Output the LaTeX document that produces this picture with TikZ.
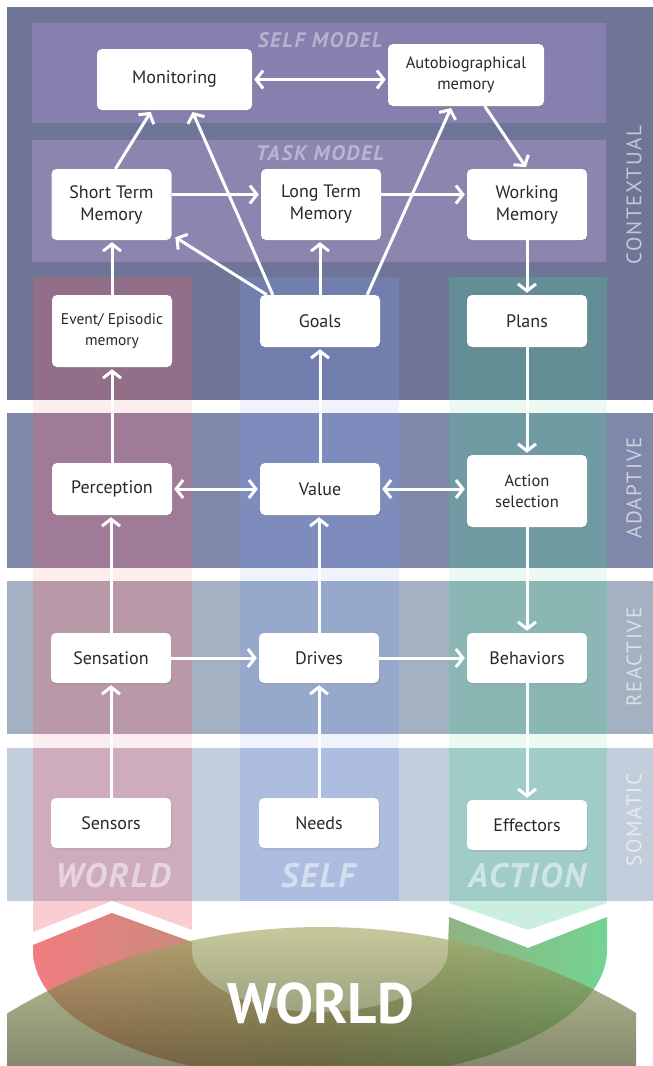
\documentclass[tikz,border=0pt]{standalone}
\usepackage{fontspec}
\setmainfont{PT Sans}
\usetikzlibrary{arrows.meta,shadows,calc}
\definecolor{ctx}{RGB}{110,117,150}
\definecolor{adp}{RGB}{128,136,170}
\definecolor{rea}{RGB}{164,177,194}
\definecolor{som}{RGB}{195,206,221}
\definecolor{selfm}{RGB}{133,128,173}
\definecolor{taskm}{RGB}{141,133,176}
\definecolor{colw}{RGB}{235,95,110}
\definecolor{cols}{RGB}{120,150,230}
\definecolor{cola}{RGB}{80,200,150}
\definecolor{ured}{RGB}{240,125,128}
\definecolor{umid}{RGB}{170,150,120}
\definecolor{ugreen}{RGB}{115,212,145}
\definecolor{etop}{RGB}{172,176,110}
\definecolor{emid}{RGB}{100,106,55}
\definecolor{ebot}{RGB}{75,82,40}
\definecolor{txt}{RGB}{40,40,40}
\begin{document}
\begin{tikzpicture}[x=1pt,y=-1pt,
  >={Straight Barb[length=7pt,width=18pt]},
  box/.style={fill=white, rounded corners=5pt, minimum width=120pt, minimum height=52pt,
    align=center, font=\fontsize{18}{22}\selectfont, text=txt, inner sep=2pt,
    drop shadow={shadow xshift=1pt, shadow yshift=-1.5pt, opacity=0.3}},
  arr/.style={draw=white, line width=3pt, ->, shorten >=2pt},
  darr/.style={draw=white, line width=3pt, <->, shorten >=2pt, shorten <=2pt},
  rowlab/.style={rotate=90, text=white, text opacity=0.6,
    font=\fontsize{21}{21}\selectfont\addfontfeature{LetterSpace=8}},
  modlab/.style={text=white, text opacity=0.4,
    font=\fontsize{21}{21}\selectfont\bfseries\itshape\addfontfeature{LetterSpace=8}},
  collab/.style={text=white, text opacity=0.5,
    font=\fontsize{34}{34}\selectfont\bfseries\itshape\addfontfeature{LetterSpace=6}}
]
\useasboundingbox (0,0) rectangle (653,1066);
\fill[white] (0,0) rectangle (653,1066);
% rows
\fill[ctx] (7,7) rectangle (653,400);
\fill[adp] (7,413) rectangle (653,568);
\fill[rea] (7,581) rectangle (653,734);
\fill[som] (7,748) rectangle (653,901);
% models
\fill[selfm] (32,23) rectangle (606,123);
\fill[taskm] (32,140) rectangle (606,262);
% columns
\fill[colw, opacity=0.3] (33,277) rectangle (192,948);
\fill[cols, opacity=0.3] (240,277) rectangle (399,901);
\fill[cola, opacity=0.3] (449,277) rectangle (607,948);
% gaps between rows
\fill[white, opacity=0.65] (7,400) rectangle (653,413);
\fill[white, opacity=0.65] (7,568) rectangle (653,581);
\fill[white, opacity=0.65] (7,734) rectangle (653,748);
% chevron bands
\fill[white] (33,932) -- (112,901) -- (192,930) -- (192,942) -- (112,913) -- (33,945) -- cycle;
\fill[white] (449,903) -- (528,930) -- (607,903) -- (607,917) -- (528,948) -- (449,917) -- cycle;
% U shape
\shade[left color=ured, right color=ugreen, middle color=umid]
  (33,945) -- (112,913) -- (192,942) -- (192,950)
  arc[start angle=180, end angle=0, x radius=128, y radius=62]
  -- (449,917) -- (528,948) -- (607,917) -- (607,950)
  arc[start angle=0, end angle=180, x radius=287, y radius=130] -- cycle;
% world ellipse
\begin{scope}
  \clip (7,900) rectangle (636,1066);
  \clip (322,1427) ellipse [x radius=560, y radius=500];
  \shade[top color=etop, middle color=emid, bottom color=ebot, opacity=0.68] (7,927) rectangle (636,1066);
\end{scope}
\node[font=\fontsize{57}{57}\selectfont\bfseries, text=white] (world) at (321,1004) {WORLD};
% labels
\node[rowlab] (lctx) at (634,195) {CONTEXTUAL};
\node[rowlab] (ladp) at (634,488) {ADAPTIVE};
\node[rowlab] (lrea) at (634,657) {REACTIVE};
\node[rowlab] (lsom) at (634,820) {SOMATIC};
\node[modlab] (lself) at (320,40) {SELF MODEL};
\node[modlab] (ltask) at (320,153) {TASK MODEL};
\node[collab] (cw) at (113,876) {WORLD};
\node[collab] (cs) at (318,876) {SELF};
\node[collab] (ca) at (527,876) {ACTION};
% boxes
\node[box, minimum width=155pt, minimum height=61pt] (mon) at (174.5,79.5) {Monitoring};
\node[box, minimum width=156pt, minimum height=62pt, font=\fontsize{16.5}{21}\selectfont] (auto) at (466,75) {Autobiographical\\memory};
\node[box, minimum height=71pt] (stm) at (111.5,204.5) {Short Term\\Memory};
\node[box, minimum height=71pt] (ltm) at (321,204.5) {Long Term\\Memory};
\node[box, minimum height=71pt] (wm) at (527,204.5) {Working\\Memory};
\node[box, minimum height=72pt, font=\fontsize{15.5}{21}\selectfont] (epi) at (112,331) {Event/ Episodic\\memory};
\node[box] (goals) at (320,321) {Goals};
\node[box] (plans) at (527,321) {Plans};
\node[box] (perc) at (112,489) {Perception};
\node[box] (val) at (320,489) {Value};
\node[box, minimum height=72pt, font=\fontsize{16.5}{21}\selectfont] (act) at (527,491) {Action\\selection};
\node[box, minimum height=50pt] (sens) at (111,658) {Sensation};
\node[box, minimum height=50pt] (drv) at (319,658) {Drives};
\node[box, minimum height=50pt] (beh) at (527,658) {Behaviors};
\node[box, minimum height=50pt] (sor) at (111,823) {Sensors};
\node[box, minimum height=50pt] (need) at (319,823) {Needs};
\node[box, minimum height=50pt] (eff) at (527,825) {Effectors};
% arrows
\draw[darr] (mon.east) -- (mon.east -| auto.west);
\draw[arr] ($(stm.north)+(4,0)$) -- ($(mon.south west)+(55,0)$);
\draw[arr] ($(goals.north west)+(13,0)$) -- ($(mon.south west)+(95,0)$);
\draw[arr] ($(goals.north east)+(-13,0)$) -- ($(auto.south west)+(64,0)$);
\draw[arr] ($(auto.south west)+(97,0)$) -- (wm.north);
\draw[arr] ($(goals.north west)+(7,0)$) -- ($(stm.south east)+(2,-4)$);
\draw[arr] ($(stm.east)+(0,-10)$) -- ($(ltm.west)+(0,-10)$);
\draw[arr] ($(ltm.east)+(0,-10)$) -- ($(wm.west)+(0,-10)$);
\draw[arr] (epi.north) -- (epi.north |- stm.south);
\draw[arr] (goals.north) -- (goals.north |- ltm.south);
\draw[arr] (wm.south) -- (plans.north);
\draw[arr] (plans.south) -- (act.north);
\draw[arr] (val.north) -- (goals.south);
\draw[arr] (perc.north) -- (epi.south);
\draw[darr] (perc.east) -- (val.west);
\draw[darr] (val.east) -- (val.east -| act.west);
\draw[arr] (sens.north) -- (sens.north |- perc.south);
\draw[arr] (drv.north) -- (drv.north |- val.south);
\draw[arr] (act.south) -- (beh.north);
\draw[arr] (sens.east) -- (drv.west);
\draw[arr] (drv.east) -- (beh.west);
\draw[arr] (sor.north) -- (sens.south);
\draw[arr] (need.north) -- (drv.south);
\draw[arr] (beh.south) -- (eff.north);
\end{tikzpicture}
\end{document}
